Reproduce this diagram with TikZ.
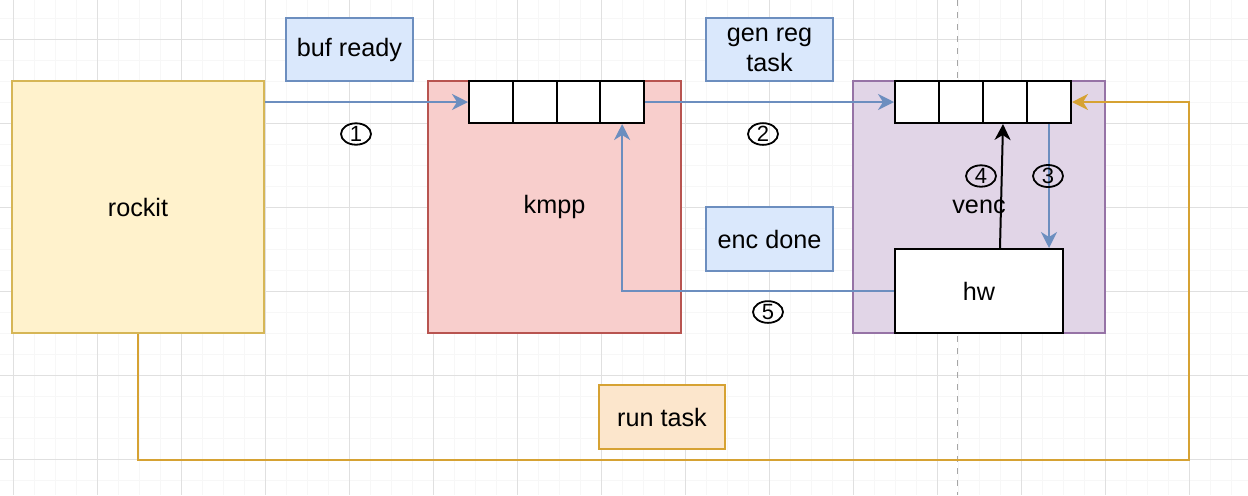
\documentclass[tikz,border=0pt]{standalone}
\usepackage{fontspec}
\setmainfont{Liberation Sans}
\usepackage{tikz}
\usetikzlibrary{arrows.meta,shapes.geometric}
\usepackage{xcolor}
\definecolor{rkfill}{HTML}{FFF2CC}
\definecolor{rkline}{HTML}{D6B656}
\definecolor{kmfill}{HTML}{F8CECC}
\definecolor{kmline}{HTML}{B85450}
\definecolor{vefill}{HTML}{E1D5E7}
\definecolor{veline}{HTML}{9673A6}
\definecolor{lbfill}{HTML}{DAE8FC}
\definecolor{lbline}{HTML}{6C8EBF}
\definecolor{rtfill}{HTML}{FCE6CC}
\definecolor{rtline}{HTML}{D6A233}

\begin{document}
\begin{tikzpicture}[x=0.5pt,y=-0.5pt,
    every node/.style={font=\fontsize{12.6}{15}\selectfont},
    blockbox/.style={draw,line width=1pt,minimum width=126pt,minimum height=126pt,inner sep=0pt},
    labelbox/.style={draw=lbline,fill=lbfill,line width=1pt,minimum width=63.5pt,minimum height=31.5pt,align=center,inner sep=0pt},
    qcell/.style={draw=black,fill=white,line width=1pt,minimum height=21pt,inner sep=0pt},
    numtag/.style={draw,ellipse,line width=0.9pt,minimum width=15pt,minimum height=9.5pt,inner sep=0pt,font=\fontsize{11}{11}\selectfont},
    bluearrow/.style={draw=lbline,line width=1pt,-{Stealth[length=8pt,width=8pt,inset=2.5pt]}},
    blackarrow/.style={draw=black,line width=1pt,-{Stealth[length=8pt,width=8pt,inset=2.5pt]}},
    goldarrow/.style={draw=rtline,line width=1.2pt,-{Stealth[length=8pt,width=8pt,inset=2.5pt]}}]

  \useasboundingbox[fill=white] (0,0) rectangle (1248,495);
  \foreach \gx in {13,34,...,1248} \draw[black!3,line width=0.5pt] (\gx,0) -- (\gx,495);
  \foreach \gy in {18,39,...,495} \draw[black!3,line width=0.5pt] (0,\gy) -- (1248,\gy);
  \foreach \gx in {13,97,...,1248} \draw[black!12,line width=0.5pt] (\gx,0) -- (\gx,495);
  \foreach \gy in {39,123,...,495} \draw[black!12,line width=0.5pt] (0,\gy) -- (1248,\gy);
  \draw[black!35,dashed,line width=0.4pt] (957,0) -- (957,495);

  \node[blockbox,draw=rkline,fill=rkfill] (rockit) at (138,207) {rockit};
  \node[blockbox,draw=kmline,fill=kmfill,minimum width=126.5pt] (kmpp) at (554.5,207) {kmpp};
  \node[blockbox,draw=veline,fill=vefill] (venc) at (979,207) {venc};

  \foreach \i in {1,...,4}
    \node[qcell,minimum width=21.875pt] (kq\i) at (469+43.75*\i-21.875,102) {};
  \foreach \i in {1,...,4}
    \node[qcell,minimum width=22pt] (vq\i) at (895+44*\i-22,102) {};

  \node[draw=black,fill=white,line width=1pt,minimum width=84pt,minimum height=42pt,inner sep=0pt] (hw) at (979,291) {hw};

  \node[labelbox] (bufready) at (349.5,49.5) {buf ready};
  \node[labelbox] (genreg) at (769.5,49.5) {gen reg\\task};
  \node[labelbox,minimum height=32pt] (encdone) at (769.5,239) {enc done};
  \node[labelbox,draw=rtline,fill=rtfill,minimum width=63pt,minimum height=32pt] (runtask) at (662,417) {run task};

  \coordinate (loopcorner) at (1189,460);

  \draw[bluearrow] (rockit.east |- kq1.west) -- (kq1.west);
  \draw[bluearrow] (kq4.east) -- (vq1.west);
  \draw[bluearrow] (vq4.south) -- (vq4.south |- hw.north);
  \draw[blackarrow] ([xshift=10.5pt]hw.north) -- ([xshift=-1pt]vq3.south);
  \draw[bluearrow] (hw.west) -| (kq4.south);
  \draw[goldarrow] (rockit.south) |- (loopcorner) |- (vq4.east);

  \node[numtag] (tag1) at (356,134) {1};
  \node[numtag] (tag2) at (763,134) {2};
  \node[numtag] (tag3) at (1048,176) {3};
  \node[numtag] (tag4) at (981,176) {4};
  \node[numtag] (tag5) at (768,312) {5};
\end{tikzpicture}
\end{document}
